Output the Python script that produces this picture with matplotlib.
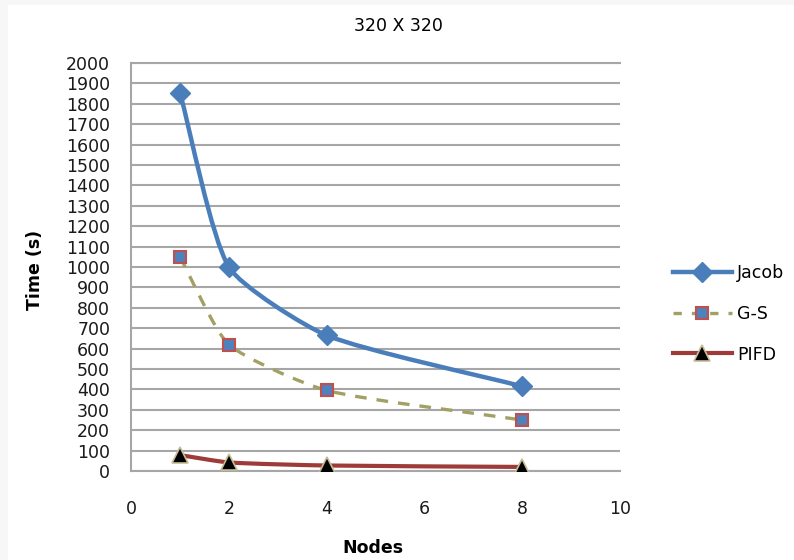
import matplotlib.pyplot as plt
from matplotlib.path import Path
from matplotlib.patches import PathPatch
from matplotlib.lines import Line2D
import numpy as np

nodes = [1, 2, 4, 8]
jacob = [1855, 1000, 665, 415]
gauss_seidel = [1050, 620, 395, 250]
pifd = [78, 42, 27, 20]

# pixels per data unit on each axis, so the smoothing works in screen space
PX_X = 489 / 10
PX_Y = 408 / 2000


def smooth_path(xs, ys, tension=0.2):
    # Bezier through each point, tangents weighted by neighbouring chord lengths
    pts = np.column_stack([np.asarray(xs) * PX_X, np.asarray(ys) * PX_Y]).astype(float)
    n = len(pts)
    seg = np.hypot(*np.diff(pts, axis=0).T)
    out_ctrl, in_ctrl = [], []
    for i in range(n):
        p_prev = pts[i - 1] if i > 0 else pts[i]
        p_next = pts[i + 1] if i + 1 < n else pts[i]
        l_in = seg[i - 1] if i > 0 else 0.0
        l_out = seg[i] if i + 1 < n else 0.0
        d = p_next - p_prev
        total = l_in + l_out
        out_ctrl.append(pts[i] + d * tension * l_out / total)
        in_ctrl.append(pts[i] - d * tension * l_in / total)
    verts = [pts[0]]
    codes = [Path.MOVETO]
    for i in range(n - 1):
        verts += [out_ctrl[i], in_ctrl[i + 1], pts[i + 1]]
        codes += [Path.CURVE4] * 3
    verts = np.array(verts) / [PX_X, PX_Y]
    return Path(verts, codes)


fig = plt.figure(figsize=(7.94, 5.6), dpi=100, facecolor="#f7f7f7")
fig.patches.append(plt.Rectangle((8 / 794, 0), 1, 1 - 5 / 560,
                                 transform=fig.transFigure,
                                 facecolor="white", edgecolor="none", zorder=-10))
ax = fig.add_axes([131 / 794, 1 - 471 / 560, 489 / 794, 408 / 560])
ax.set_zorder(1)
ax.set_facecolor("white")

ax.set_xlim(0, 10)
ax.set_ylim(0, 2000)
ax.set_xticks(range(0, 11, 2))
ax.set_yticks(range(0, 2001, 100))
ax.grid(axis="y", color="#a6a6a6", lw=1.5)
ax.set_axisbelow(True)
ax.spines["right"].set_visible(False)
for side in ["left", "bottom", "top"]:
    ax.spines[side].set_color("#a6a6a6")
    ax.spines[side].set_linewidth(1.5)
ax.tick_params(length=0, labelsize=12.5, colors="#1a1a1a")
ax.tick_params(axis="y", pad=15)
ax.tick_params(axis="x", pad=21)

blue = "#4a7ebb"
olive = "#a3a066"
red = "#9e3b38"

ax.add_patch(PathPatch(smooth_path(nodes, jacob), fill=False, ec=blue, lw=3.2,
                       capstyle="round", joinstyle="round", zorder=3))
ax.plot(nodes, jacob, ls="none", marker="D", ms=10, mfc=blue, mec=blue, zorder=4)

ax.add_patch(PathPatch(smooth_path(nodes, gauss_seidel), fill=False, ec=olive, lw=2.4,
                       ls=(0, (3.5, 3)), zorder=3))
ax.plot(nodes, gauss_seidel, ls="none", marker="s", ms=9, mfc="#4f81bd", mec="#c0504d",
        mew=1.5, zorder=4)

ax.add_patch(PathPatch(smooth_path(nodes, pifd), fill=False, ec=red, lw=3,
                       capstyle="round", zorder=3))
ax.plot(nodes, pifd, ls="none", marker="^", ms=11, mfc="black", mec="#c4bd97",
        mew=1.2, zorder=4)

handles = [
    Line2D([], [], color=blue, lw=3.2, marker="D", ms=10, mfc=blue, mec=blue),
    Line2D([], [], color=olive, lw=2.4, ls=(0, (2.5, 3)), marker="s", ms=9,
           mfc="#4f81bd", mec="#c0504d", mew=1.5),
    Line2D([], [], color=red, lw=3, marker="^", ms=11, mfc="black", mec="#c4bd97", mew=1.2),
]
fig.legend(handles, ["Jacob", "G-S", "PIFD"], loc="center left",
           bbox_to_anchor=(666 / 794, 1 - 314 / 560), frameon=False,
           fontsize=12.5, handlelength=3.4, handletextpad=0.3, labelspacing=1.3,
           borderaxespad=0)

fig.text(398 / 794, 1 - 26 / 560, "320 X 320", ha="center", va="center",
         fontsize=12.5, family=["Liberation Sans Narrow", "DejaVu Sans"])
fig.text(35 / 794, 1 - 270 / 560, "Time (s)", ha="center", va="center",
         rotation=90, fontsize=12.5, fontweight="bold")
fig.text(373 / 794, 1 - 548 / 560, "Nodes", ha="center", va="center",
         fontsize=12.5, fontweight="bold")

fig.savefig("out.png", dpi=100, facecolor=fig.get_facecolor())
